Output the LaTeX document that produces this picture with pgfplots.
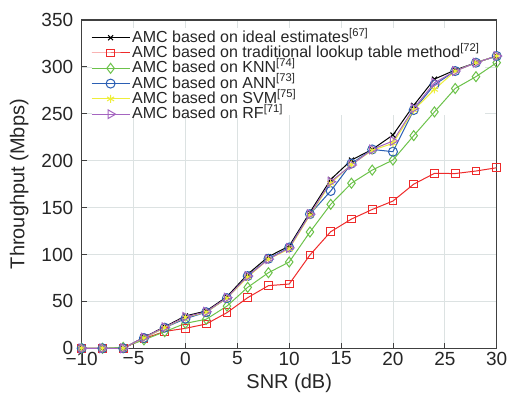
\documentclass[border=0pt]{standalone}
\usepackage{fontspec}
\setmainfont{Liberation Sans}
\usepackage{pgfplots}
\pgfplotsset{compat=1.18}
\definecolor{cred}{HTML}{EE2A2A}
\definecolor{cgreen}{HTML}{6CC24A}
\definecolor{cblue}{HTML}{2B5FB4}
\definecolor{cyellow}{HTML}{EEEE3A}
\definecolor{cpurple}{HTML}{A565C0}
\definecolor{gridc}{HTML}{DCE2E2}
\definecolor{axc}{HTML}{404040}
\definecolor{txt}{HTML}{262626}

\begin{document}
\begin{tikzpicture}
\begin{axis}[
    name=ax,
    scale only axis,
    width=415pt, height=328.3pt,
    xmin=-10, xmax=30, ymin=0, ymax=350,
    xtick={-10,-5,0,5,10,15,20,25,30},
    xticklabels={−10,−5,0,5,10,15,20,25,30},
    ytick={0,50,...,350},
    tick pos=left,
    tick align=inside,
    major tick length=5pt,
    tick style={axc, line width=0.9pt},
    axis line style={axc, line width=1.3pt},
    grid=major,
    grid style={gridc, line width=0.8pt},
    /pgf/number format/assume math mode=true,
    ticklabel style={font=\fontsize{19}{22}\selectfont, text=txt},
    yticklabel style={xshift=-5pt},
    xlabel={SNR (dB)},
    ylabel={Throughput (Mbps)},
    label style={font=\fontsize{20}{24}\selectfont, text=txt},
    xlabel style={yshift=-2pt},
    ylabel style={yshift=6pt},
    legend style={at={(0.022,0.97)}, anchor=north west, draw=none, fill=none,
        font=\fontsize{16}{16}\selectfont, row sep=0pt, inner sep=0pt,
        nodes={inner ysep=0.5pt, inner xsep=2pt, text height=11.8pt, text depth=2.5pt},
        text=txt},
    legend cell align=left,
    legend image code/.code={
        \draw[#1, mark repeat=2, mark phase=2] plot coordinates {(0cm,0cm) (0.67cm,0cm) (1.34cm,0cm)};
    },
    every axis plot/.append style={line width=1pt},
]
% white legend panel: above the grid, below the curves
\fill[white] (axis cs:-9.0,248.7) rectangle (axis cs:28.9,341.5);
\addplot[color=black, mark=x, mark size=3.5pt] coordinates {
(-10,0)(-8,0)(-6,0)(-4,11.7)(-2,23)(0,34.5)(2,39.8)(4,55)(6,79)(8,97.7)(10,109)
(12,145)(14,180)(16,200.7)(18,212)(20,227.4)(22,259)(24,287)(26,296.7)(28,304.5)(30,311.6)};
\addplot[color=cred, mark=square, mark size=3.8pt] coordinates {
(-10,0)(-8,0)(-6,0)(-4,10.3)(-2,18)(0,21.3)(2,25.9)(4,38)(6,54)(8,66.8)(10,68.5)
(12,99.5)(14,124.3)(16,137.8)(18,148)(20,157)(22,175)(24,186.5)(26,186.3)(28,189)(30,192.5)};
\addplot[color=cgreen, mark=diamond, mark size=5pt] coordinates {
(-10,0)(-8,0)(-6,1)(-4,9)(-2,17.7)(0,26.6)(2,31)(4,45)(6,65)(8,80.6)(10,92)
(12,124)(14,153.5)(16,176)(18,190)(20,200.7)(22,226.7)(24,252)(26,277)(28,289.6)(30,304.5)};
\addplot[color=cblue, mark=o, mark size=4.5pt] coordinates {
(-10,0)(-8,0)(-6,0)(-4,11)(-2,22)(0,31.6)(2,38.5)(4,53.5)(6,77)(8,95.5)(10,107.5)
(12,143)(14,167.7)(16,197)(18,212)(20,209.6)(22,254)(24,281)(26,295.6)(28,304.5)(30,311.6)};
\addplot[color=cyellow, mark=asterisk, mark size=4pt] coordinates {
(-10,0)(-8,0)(-6,0)(-4,11)(-2,22)(0,33)(2,38.5)(4,53.5)(6,76)(8,95)(10,106)
(12,142)(14,176)(16,196)(18,211)(20,218.5)(22,254)(24,276)(26,295.6)(28,304.5)(30,311.6)};
\addplot[color=cpurple, mark=triangle, mark options={rotate=-90}, mark size=5pt] coordinates {
(-10,0)(-8,0)(-6,0)(-4,11.5)(-2,22.5)(0,33.5)(2,39)(4,54)(6,77)(8,95)(10,107)
(12,143)(14,177.6)(16,195.4)(18,212)(20,221)(22,255.8)(24,283)(26,295.6)(28,304.5)(30,311.6)};
\legend{AMC based on ideal estimates\textsuperscript{[67]},
        AMC based on traditional lookup table method\textsuperscript{[72]},
        AMC based on KNN\textsuperscript{[74]},
        AMC based on ANN\textsuperscript{[73]},
        AMC based on SVM\textsuperscript{[75]},
        AMC based on RF\textsuperscript{[71]}}
\end{axis}
\pgfresetboundingbox
\path[use as bounding box] ([xshift=-81.7pt,yshift=-52.7pt]ax.south west) rectangle ([xshift=12.3pt,yshift=20pt]ax.north east);
\end{tikzpicture}
\end{document}
